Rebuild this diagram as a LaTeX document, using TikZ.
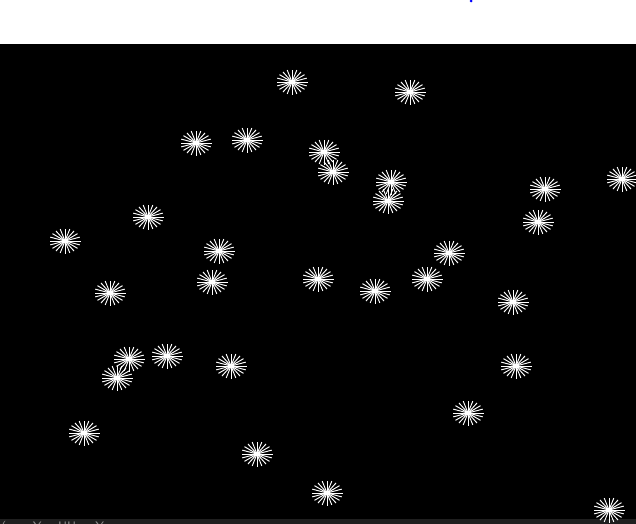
\documentclass[tikz,border=0pt]{standalone}
\usetikzlibrary{calc}
\definecolor{gris}{gray}{0.12}
\definecolor{grisclair}{gray}{0.55}
\tikzset{rayon/.style={white, line width=0.55pt}}
\newcommand{\etoile}[1]{\foreach \a in {0,18,...,342} \draw[rayon] (#1) -- ++(\a:15.5 and 12.5);}

\begin{document}
\begin{tikzpicture}[x=0.02cm,y=-0.02cm]
  \useasboundingbox (0,0) rectangle (636,524);

      % FOND
      \fill[white] (0,0) rectangle (636,44);
      \fill[black] (0,44) rectangle (636,519);
      \fill[gris] (0,519) rectangle (636,524);
      \fill[blue] (471,1) circle (1.5);

      % ETOILES
      \coordinate (E1) at (292,82);
      \coordinate (E2) at (410,92);
      \coordinate (E3) at (196,143);
      \coordinate (E4) at (247,140);
      \coordinate (E5) at (324,152);
      \coordinate (E6) at (333,172);
      \coordinate (E7) at (391,182);
      \coordinate (E8) at (388,201);
      \coordinate (E9) at (545,189);
      \coordinate (E10) at (622,179);
      \coordinate (E11) at (148,217);
      \coordinate (E12) at (538,222);
      \coordinate (E13) at (65,241);
      \coordinate (E14) at (219,251);
      \coordinate (E15) at (449,253);
      \coordinate (E16) at (212,282);
      \coordinate (E17) at (318,279);
      \coordinate (E18) at (427,279);
      \coordinate (E19) at (375,291);
      \coordinate (E20) at (110,293);
      \coordinate (E21) at (513,302);
      \coordinate (E22) at (129,359);
      \coordinate (E23) at (167,356);
      \coordinate (E24) at (231,366);
      \coordinate (E25) at (117,378);
      \coordinate (E26) at (516,366);
      \coordinate (E27) at (468,413);
      \coordinate (E28) at (84,433);
      \coordinate (E29) at (257,454);
      \coordinate (E30) at (327,493);
      \coordinate (E31) at (609,510);

      \foreach \e in {E1,E2,E3,E4,E5,E6,E7,E8,E9,E10,E11,E12,E13,E14,E15,E16,
                      E17,E18,E19,E20,E21,E22,E23,E24,E25,E26,E27,E28,E29,E30,E31}
        \etoile{\e};

      % BAS
      \begin{scope}
        \clip (0,519) rectangle (636,524);
        \node[anchor=north west, inner sep=0pt, text=grisclair,
              font=\fontsize{7}{8}\selectfont\sffamily] (bas) at (1,520.5)
          {(\hspace{15pt}Y\hspace{9.5pt}UU\hspace{11pt}Y};
      \end{scope}

\end{tikzpicture}
\end{document}
